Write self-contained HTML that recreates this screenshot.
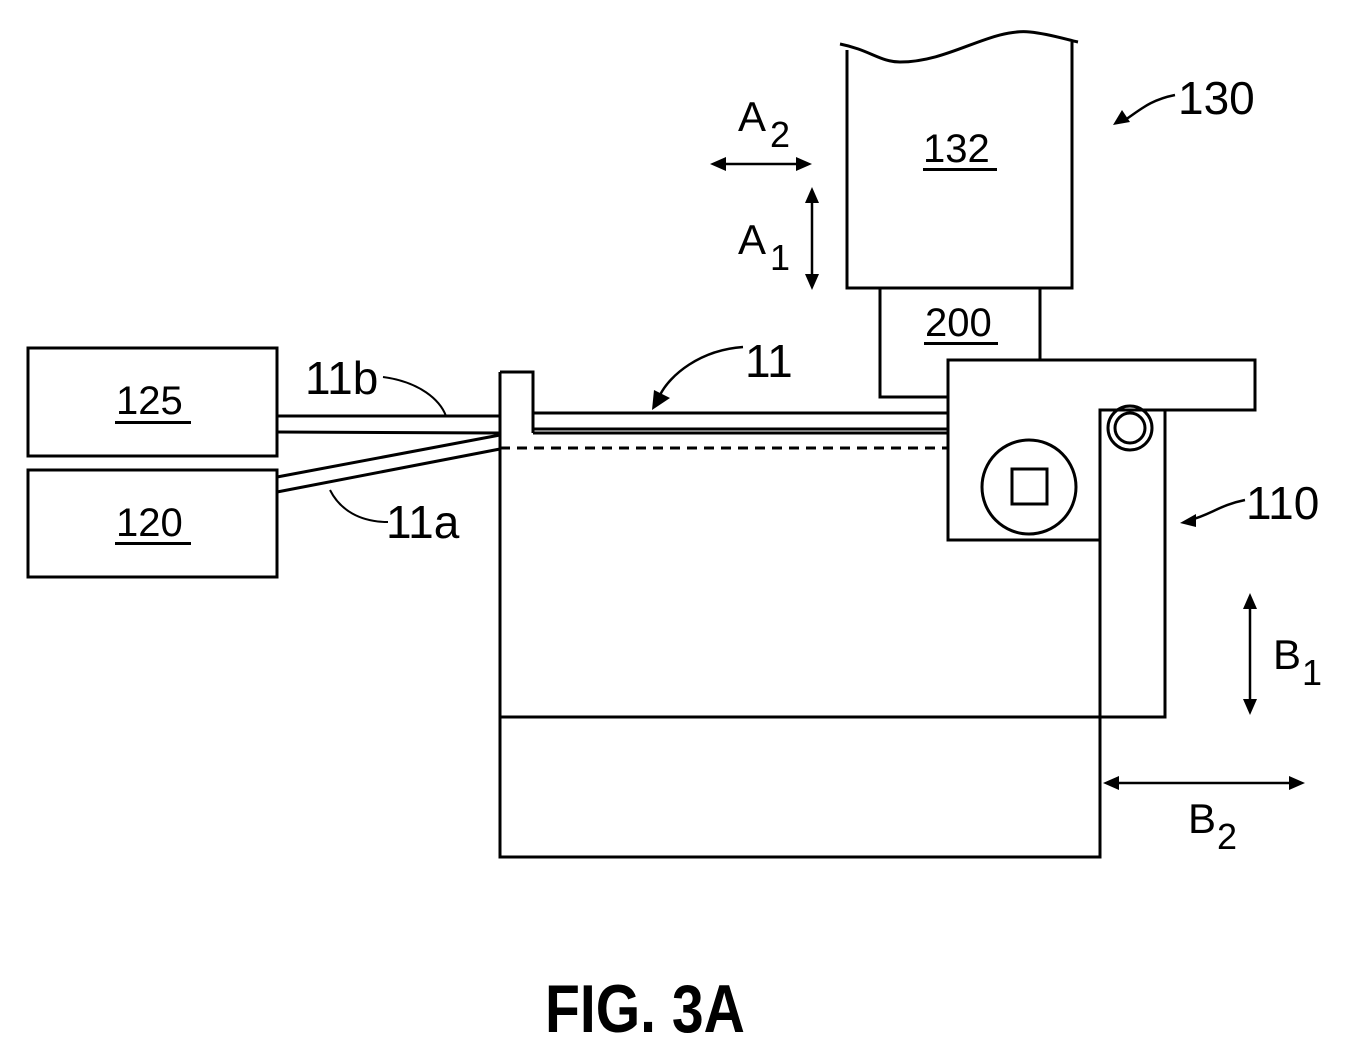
<!DOCTYPE html>
<html><head><style>body{margin:0;background:#fff}svg{display:block}text{font-family:"Liberation Sans",sans-serif;fill:#000}</style></head>
<body>
<svg width="1370" height="1051" viewBox="0 0 1370 1051" xmlns="http://www.w3.org/2000/svg">
<g fill="none" stroke="#000" stroke-width="3">
<path d="M840 44 C870 50 880 62 900 62 C950 62 990 28 1030 32 C1050 34 1068 40 1078 42"/>
<path d="M847 50 V288 H1072 V42"/>
<path d="M880 288 V397 H948 M1040 288 V360"/>
<path d="M948 360 H1255 V410 H1100 V540 H948 Z"/>
<circle cx="1029" cy="487" r="47"/>
<rect x="1012" y="469" width="35" height="35"/>
<circle cx="1130" cy="428" r="22"/>
<circle cx="1130" cy="428" r="15"/>
<path d="M1100 410 V717 M1165 410 V717 H500"/>
<path d="M500 372 H533 V433 M500 372 V857 H1100 V540"/>
<path d="M533 413 H948 M533 429 H948 M533 433 H948"/>
<path d="M500 448 H948" stroke-dasharray="10 7"/>
<rect x="28" y="348" width="249" height="108"/>
<rect x="28" y="470" width="249" height="107"/>
<path d="M277 416 H500 M277 432 L500 433 M277 477 L500 435 M277 492 L500 449"/>
<path d="M383 377 C420 382 440 400 446 416" stroke-width="2"/>
<path d="M388 522 C360 522 340 510 330 490" stroke-width="2"/>
<path d="M743 347 C700 350 670 375 660 395" stroke-width="2.5"/>
<path d="M1175 95 C1150 100 1140 110 1125 120" stroke-width="2.5"/>
<path d="M1245 500 C1220 505 1210 515 1190 520" stroke-width="2.5"/>
<path d="M718 164 H805 M812 195 V282 M1250 600 V708 M1110 783 H1298" stroke-width="2.5"/>
</g>
<g fill="#000">
<path d="M652 410 L654 390 L670 398 Z"/>
<path d="M1113 125 L1122 110 L1130 122 Z"/>
<path d="M1180 523 L1196 514 L1196 527 Z"/>
<path d="M710 164 L726 157 L726 171 Z M812 164 L796 157 L796 171 Z"/>
<path d="M812 187 L805 203 L819 203 Z M812 290 L805 274 L819 274 Z"/>
<path d="M1250 593 L1243 609 L1257 609 Z M1250 715 L1243 699 L1257 699 Z"/>
<path d="M1103 783 L1119 776 L1119 790 Z M1305 783 L1289 776 L1289 790 Z"/>
</g>
<g font-size="40">
<text x="116" y="414">125</text><rect x="115" y="421" width="76" height="3"/>
<text x="116" y="536">120</text><rect x="115" y="542" width="76" height="3"/>
<text x="923" y="162">132</text><rect x="923" y="168" width="74" height="3"/>
<text x="925" y="336">200</text><rect x="924" y="342" width="74" height="3"/>
</g>
<g font-size="46">
<text x="305" y="394">11b</text>
<text x="386" y="538">11a</text>
<text x="745" y="377">11</text>
<text x="1178" y="114">130</text>
<text x="1246" y="519">110</text>
</g>
<g font-size="42">
<text x="738" y="131">A</text><text x="770" y="147" font-size="36">2</text>
<text x="738" y="254">A</text><text x="770" y="270" font-size="36">1</text>
<text x="1273" y="669">B</text><text x="1302" y="685" font-size="36">1</text>
<text x="1188" y="833">B</text><text x="1217" y="849" font-size="36">2</text>
</g>
<text x="545" y="1032" font-size="68" font-weight="bold" transform="translate(545 0) scale(0.84 1) translate(-545 0)">FIG. 3A</text>
</svg>
</body></html>
